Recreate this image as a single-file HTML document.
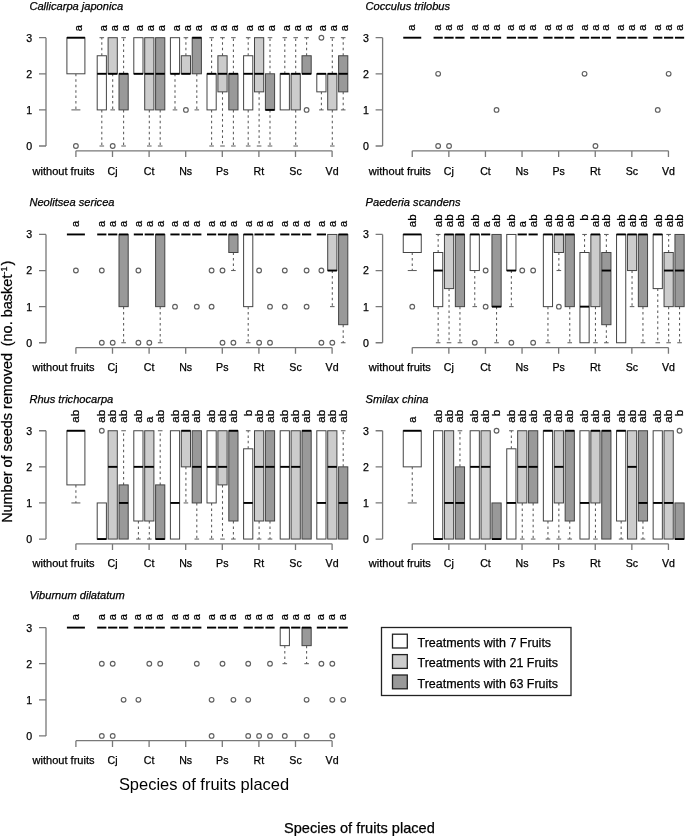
<!DOCTYPE html>
<html lang="en">
<head>
<meta charset="utf-8">
<title>Number of seeds removed by species of fruits placed</title>
<style>
html,body{margin:0;padding:0;background:#fff;}
body{width:685px;height:836px;overflow:hidden;font-family:"Liberation Sans",Arial,Helvetica,sans-serif;}
svg{display:block;}
</style>
</head>
<body>
<svg width="685" height="836" viewBox="0 0 685 836" font-family="'Liberation Sans', Arial, Helvetica, sans-serif" fill="#000" stroke="#000" stroke-width="0.25">
<rect width="685" height="836" fill="#fff" stroke="none"/>
<g><text x="29.4" y="10.2" font-size="11.1" font-style="italic">Callicarpa japonica</text><path d="M46 37.7V146M39 146H46M39 109.9H46M39 73.8H46M39 37.7H46M75.9 150.8H332.1M75.9 150.8V157M112.5 150.8V157M149.1 150.8V157M185.7 150.8V157M222.3 150.8V157M258.9 150.8V157M295.5 150.8V157M332.1 150.8V157" fill="none" stroke="#787878" stroke-width="1.3"/><text x="29.3" y="149.9" font-size="10.6" text-anchor="middle">0</text><text x="29.3" y="113.8" font-size="10.6" text-anchor="middle">1</text><text x="29.3" y="77.7" font-size="10.6" text-anchor="middle">2</text><text x="29.3" y="41.6" font-size="10.6" text-anchor="middle">3</text><text x="32.5" y="175" font-size="10.6" textLength="62" lengthAdjust="spacingAndGlyphs">without fruits</text><text x="112.5" y="175" font-size="10.6" text-anchor="middle">Cj</text><text x="149.1" y="175" font-size="10.6" text-anchor="middle">Ct</text><text x="185.7" y="175" font-size="10.6" text-anchor="middle">Ns</text><text x="222.3" y="175" font-size="10.6" text-anchor="middle">Ps</text><text x="258.9" y="175" font-size="10.6" text-anchor="middle">Rt</text><text x="295.5" y="175" font-size="10.6" text-anchor="middle">Sc</text><text x="332.1" y="175" font-size="10.6" text-anchor="middle">Vd</text><path d="M75.9 73.8V109.9" fill="none" stroke="#5a5a5a" stroke-width="1.05" stroke-dasharray="2.5 2.95"/><path d="M71.4 109.9H80.4" fill="none" stroke="#5a5a5a" stroke-width="1"/><rect x="66.9" y="37.7" width="18" height="36.1" fill="#ffffff" stroke="#444444" stroke-width="1"/><path d="M66.9 37.7H84.9" stroke="#000" stroke-width="1.9" fill="none"/><circle cx="75.9" cy="146" r="2.35" fill="none" stroke="#606060" stroke-width="1.15"/><text transform="translate(82.1 31.3) rotate(-90)" font-size="11">a</text><path d="M101.8 109.9V146M101.8 55.75V37.7" fill="none" stroke="#5a5a5a" stroke-width="1.05" stroke-dasharray="2.5 2.95"/><path d="M99.5 146H104.1M99.5 37.7H104.1" fill="none" stroke="#5a5a5a" stroke-width="1"/><rect x="97.2" y="55.75" width="9.2" height="54.15" fill="#ffffff" stroke="#444444" stroke-width="1"/><path d="M97.2 73.8H106.4" stroke="#000" stroke-width="1.9" fill="none"/><text transform="translate(106.7 31.3) rotate(-90)" font-size="11">a</text><path d="M112.7 73.8V109.9" fill="none" stroke="#5a5a5a" stroke-width="1.05" stroke-dasharray="2.5 2.95"/><path d="M110.4 109.9H115" fill="none" stroke="#5a5a5a" stroke-width="1"/><rect x="108.1" y="37.7" width="9.2" height="36.1" fill="#cccccc" stroke="#444444" stroke-width="1"/><path d="M108.1 73.8H117.3" stroke="#000" stroke-width="1.9" fill="none"/><circle cx="112.7" cy="146" r="2.35" fill="none" stroke="#606060" stroke-width="1.15"/><text transform="translate(117.6 31.3) rotate(-90)" font-size="11">a</text><path d="M123.6 109.9V146M123.6 73.8V37.7" fill="none" stroke="#5a5a5a" stroke-width="1.05" stroke-dasharray="2.5 2.95"/><path d="M121.3 146H125.9M121.3 37.7H125.9" fill="none" stroke="#5a5a5a" stroke-width="1"/><rect x="119" y="73.8" width="9.2" height="36.1" fill="#999999" stroke="#444444" stroke-width="1"/><path d="M119 73.8H128.2" stroke="#000" stroke-width="1.9" fill="none"/><text transform="translate(128.5 31.3) rotate(-90)" font-size="11">a</text><rect x="133.8" y="37.7" width="9.2" height="36.1" fill="#ffffff" stroke="#444444" stroke-width="1"/><path d="M133.8 73.8H143" stroke="#000" stroke-width="1.9" fill="none"/><text transform="translate(143.3 31.3) rotate(-90)" font-size="11">a</text><path d="M149.3 109.9V146" fill="none" stroke="#5a5a5a" stroke-width="1.05" stroke-dasharray="2.5 2.95"/><path d="M147 146H151.6" fill="none" stroke="#5a5a5a" stroke-width="1"/><rect x="144.7" y="37.7" width="9.2" height="72.2" fill="#cccccc" stroke="#444444" stroke-width="1"/><path d="M144.7 73.8H153.9" stroke="#000" stroke-width="1.9" fill="none"/><text transform="translate(154.2 31.3) rotate(-90)" font-size="11">a</text><path d="M160.2 109.9V146" fill="none" stroke="#5a5a5a" stroke-width="1.05" stroke-dasharray="2.5 2.95"/><path d="M157.9 146H162.5" fill="none" stroke="#5a5a5a" stroke-width="1"/><rect x="155.6" y="37.7" width="9.2" height="72.2" fill="#999999" stroke="#444444" stroke-width="1"/><path d="M155.6 73.8H164.8" stroke="#000" stroke-width="1.9" fill="none"/><text transform="translate(165.1 31.3) rotate(-90)" font-size="11">a</text><path d="M175 73.8V109.9" fill="none" stroke="#5a5a5a" stroke-width="1.05" stroke-dasharray="2.5 2.95"/><path d="M172.7 109.9H177.3" fill="none" stroke="#5a5a5a" stroke-width="1"/><rect x="170.4" y="37.7" width="9.2" height="36.1" fill="#ffffff" stroke="#444444" stroke-width="1"/><path d="M170.4 73.8H179.6" stroke="#000" stroke-width="1.9" fill="none"/><text transform="translate(179.9 31.3) rotate(-90)" font-size="11">a</text><path d="M185.9 55.75V37.7" fill="none" stroke="#5a5a5a" stroke-width="1.05" stroke-dasharray="2.5 2.95"/><path d="M183.6 37.7H188.2" fill="none" stroke="#5a5a5a" stroke-width="1"/><rect x="181.3" y="55.75" width="9.2" height="18.05" fill="#cccccc" stroke="#444444" stroke-width="1"/><path d="M181.3 73.8H190.5" stroke="#000" stroke-width="1.9" fill="none"/><circle cx="185.9" cy="109.9" r="2.35" fill="none" stroke="#606060" stroke-width="1.15"/><text transform="translate(190.8 31.3) rotate(-90)" font-size="11">a</text><path d="M196.8 73.8V109.9" fill="none" stroke="#5a5a5a" stroke-width="1.05" stroke-dasharray="2.5 2.95"/><path d="M194.5 109.9H199.1" fill="none" stroke="#5a5a5a" stroke-width="1"/><rect x="192.2" y="37.7" width="9.2" height="36.1" fill="#999999" stroke="#444444" stroke-width="1"/><path d="M192.2 37.7H201.4" stroke="#000" stroke-width="1.9" fill="none"/><text transform="translate(201.7 31.3) rotate(-90)" font-size="11">a</text><path d="M211.6 109.9V146M211.6 73.8V37.7" fill="none" stroke="#5a5a5a" stroke-width="1.05" stroke-dasharray="2.5 2.95"/><path d="M209.3 146H213.9M209.3 37.7H213.9" fill="none" stroke="#5a5a5a" stroke-width="1"/><rect x="207" y="73.8" width="9.2" height="36.1" fill="#ffffff" stroke="#444444" stroke-width="1"/><path d="M207 73.8H216.2" stroke="#000" stroke-width="1.9" fill="none"/><text transform="translate(216.5 31.3) rotate(-90)" font-size="11">a</text><path d="M222.5 91.85V146M222.5 55.75V37.7" fill="none" stroke="#5a5a5a" stroke-width="1.05" stroke-dasharray="2.5 2.95"/><path d="M220.2 146H224.8M220.2 37.7H224.8" fill="none" stroke="#5a5a5a" stroke-width="1"/><rect x="217.9" y="55.75" width="9.2" height="36.1" fill="#cccccc" stroke="#444444" stroke-width="1"/><path d="M217.9 73.8H227.1" stroke="#000" stroke-width="1.9" fill="none"/><text transform="translate(227.4 31.3) rotate(-90)" font-size="11">a</text><path d="M233.4 109.9V146M233.4 73.8V37.7" fill="none" stroke="#5a5a5a" stroke-width="1.05" stroke-dasharray="2.5 2.95"/><path d="M231.1 146H235.7M231.1 37.7H235.7" fill="none" stroke="#5a5a5a" stroke-width="1"/><rect x="228.8" y="73.8" width="9.2" height="36.1" fill="#999999" stroke="#444444" stroke-width="1"/><path d="M228.8 73.8H238" stroke="#000" stroke-width="1.9" fill="none"/><text transform="translate(238.3 31.3) rotate(-90)" font-size="11">a</text><path d="M248.2 109.9V146M248.2 55.75V37.7" fill="none" stroke="#5a5a5a" stroke-width="1.05" stroke-dasharray="2.5 2.95"/><path d="M245.9 146H250.5M245.9 37.7H250.5" fill="none" stroke="#5a5a5a" stroke-width="1"/><rect x="243.6" y="55.75" width="9.2" height="54.15" fill="#ffffff" stroke="#444444" stroke-width="1"/><path d="M243.6 73.8H252.8" stroke="#000" stroke-width="1.9" fill="none"/><text transform="translate(253.1 31.3) rotate(-90)" font-size="11">a</text><path d="M259.1 91.85V146" fill="none" stroke="#5a5a5a" stroke-width="1.05" stroke-dasharray="2.5 2.95"/><path d="M256.8 146H261.4" fill="none" stroke="#5a5a5a" stroke-width="1"/><rect x="254.5" y="37.7" width="9.2" height="54.15" fill="#cccccc" stroke="#444444" stroke-width="1"/><path d="M254.5 73.8H263.7" stroke="#000" stroke-width="1.9" fill="none"/><text transform="translate(264 31.3) rotate(-90)" font-size="11">a</text><path d="M270 109.9V146M270 73.8V37.7" fill="none" stroke="#5a5a5a" stroke-width="1.05" stroke-dasharray="2.5 2.95"/><path d="M267.7 146H272.3M267.7 37.7H272.3" fill="none" stroke="#5a5a5a" stroke-width="1"/><rect x="265.4" y="73.8" width="9.2" height="36.1" fill="#999999" stroke="#444444" stroke-width="1"/><path d="M265.4 109.9H274.6" stroke="#000" stroke-width="1.9" fill="none"/><text transform="translate(274.9 31.3) rotate(-90)" font-size="11">a</text><path d="M284.8 73.8V37.7" fill="none" stroke="#5a5a5a" stroke-width="1.05" stroke-dasharray="2.5 2.95"/><path d="M282.5 37.7H287.1" fill="none" stroke="#5a5a5a" stroke-width="1"/><rect x="280.2" y="73.8" width="9.2" height="36.1" fill="#ffffff" stroke="#444444" stroke-width="1"/><path d="M280.2 73.8H289.4" stroke="#000" stroke-width="1.9" fill="none"/><text transform="translate(289.7 31.3) rotate(-90)" font-size="11">a</text><path d="M295.7 109.9V146M295.7 73.8V37.7" fill="none" stroke="#5a5a5a" stroke-width="1.05" stroke-dasharray="2.5 2.95"/><path d="M293.4 146H298M293.4 37.7H298" fill="none" stroke="#5a5a5a" stroke-width="1"/><rect x="291.1" y="73.8" width="9.2" height="36.1" fill="#cccccc" stroke="#444444" stroke-width="1"/><path d="M291.1 73.8H300.3" stroke="#000" stroke-width="1.9" fill="none"/><text transform="translate(300.6 31.3) rotate(-90)" font-size="11">a</text><path d="M306.6 55.75V37.7" fill="none" stroke="#5a5a5a" stroke-width="1.05" stroke-dasharray="2.5 2.95"/><path d="M304.3 37.7H308.9" fill="none" stroke="#5a5a5a" stroke-width="1"/><rect x="302" y="55.75" width="9.2" height="18.05" fill="#999999" stroke="#444444" stroke-width="1"/><path d="M302 73.8H311.2" stroke="#000" stroke-width="1.9" fill="none"/><circle cx="306.6" cy="109.9" r="2.35" fill="none" stroke="#606060" stroke-width="1.15"/><text transform="translate(311.5 31.3) rotate(-90)" font-size="11">a</text><path d="M321.4 91.85V109.9" fill="none" stroke="#5a5a5a" stroke-width="1.05" stroke-dasharray="2.5 2.95"/><path d="M319.1 109.9H323.7" fill="none" stroke="#5a5a5a" stroke-width="1"/><rect x="316.8" y="73.8" width="9.2" height="18.05" fill="#ffffff" stroke="#444444" stroke-width="1"/><path d="M316.8 73.8H326" stroke="#000" stroke-width="1.9" fill="none"/><circle cx="321.4" cy="37.7" r="2.35" fill="none" stroke="#606060" stroke-width="1.15"/><text transform="translate(326.3 31.3) rotate(-90)" font-size="11">a</text><path d="M332.3 109.9V146M332.3 73.8V37.7" fill="none" stroke="#5a5a5a" stroke-width="1.05" stroke-dasharray="2.5 2.95"/><path d="M330 146H334.6M330 37.7H334.6" fill="none" stroke="#5a5a5a" stroke-width="1"/><rect x="327.7" y="73.8" width="9.2" height="36.1" fill="#cccccc" stroke="#444444" stroke-width="1"/><path d="M327.7 73.8H336.9" stroke="#000" stroke-width="1.9" fill="none"/><text transform="translate(337.2 31.3) rotate(-90)" font-size="11">a</text><path d="M343.2 91.85V109.9M343.2 55.75V37.7" fill="none" stroke="#5a5a5a" stroke-width="1.05" stroke-dasharray="2.5 2.95"/><path d="M340.9 109.9H345.5M340.9 37.7H345.5" fill="none" stroke="#5a5a5a" stroke-width="1"/><rect x="338.6" y="55.75" width="9.2" height="36.1" fill="#999999" stroke="#444444" stroke-width="1"/><path d="M338.6 73.8H347.8" stroke="#000" stroke-width="1.9" fill="none"/><text transform="translate(348.1 31.3) rotate(-90)" font-size="11">a</text></g>
<g><text x="365.6" y="10.2" font-size="11.1" font-style="italic">Cocculus trilobus</text><path d="M382.6 37.7V146M375.6 146H382.6M375.6 109.9H382.6M375.6 73.8H382.6M375.6 37.7H382.6M412.25 150.8H668.45M412.25 150.8V157M448.85 150.8V157M485.45 150.8V157M522.05 150.8V157M558.65 150.8V157M595.25 150.8V157M631.85 150.8V157M668.45 150.8V157" fill="none" stroke="#787878" stroke-width="1.3"/><text x="365.9" y="149.9" font-size="10.6" text-anchor="middle">0</text><text x="365.9" y="113.8" font-size="10.6" text-anchor="middle">1</text><text x="365.9" y="77.7" font-size="10.6" text-anchor="middle">2</text><text x="365.9" y="41.6" font-size="10.6" text-anchor="middle">3</text><text x="368.85" y="175" font-size="10.6" textLength="62" lengthAdjust="spacingAndGlyphs">without fruits</text><text x="448.85" y="175" font-size="10.6" text-anchor="middle">Cj</text><text x="485.45" y="175" font-size="10.6" text-anchor="middle">Ct</text><text x="522.05" y="175" font-size="10.6" text-anchor="middle">Ns</text><text x="558.65" y="175" font-size="10.6" text-anchor="middle">Ps</text><text x="595.25" y="175" font-size="10.6" text-anchor="middle">Rt</text><text x="631.85" y="175" font-size="10.6" text-anchor="middle">Sc</text><text x="668.45" y="175" font-size="10.6" text-anchor="middle">Vd</text><path d="M403.25 37.7H421.25" stroke="#000" stroke-width="1.9" fill="none"/><text transform="translate(415.35 30.7) rotate(-90)" font-size="11">a</text><path d="M433.55 37.7H442.75" stroke="#000" stroke-width="1.9" fill="none"/><circle cx="438.15" cy="73.8" r="2.35" fill="none" stroke="#606060" stroke-width="1.15"/><circle cx="438.15" cy="146" r="2.35" fill="none" stroke="#606060" stroke-width="1.15"/><text transform="translate(441.25 30.7) rotate(-90)" font-size="11">a</text><path d="M444.45 37.7H453.65" stroke="#000" stroke-width="1.9" fill="none"/><circle cx="449.05" cy="146" r="2.35" fill="none" stroke="#606060" stroke-width="1.15"/><text transform="translate(452.15 30.7) rotate(-90)" font-size="11">a</text><path d="M455.35 37.7H464.55" stroke="#000" stroke-width="1.9" fill="none"/><text transform="translate(463.05 30.7) rotate(-90)" font-size="11">a</text><path d="M470.15 37.7H479.35" stroke="#000" stroke-width="1.9" fill="none"/><text transform="translate(477.85 30.7) rotate(-90)" font-size="11">a</text><path d="M481.05 37.7H490.25" stroke="#000" stroke-width="1.9" fill="none"/><text transform="translate(488.75 30.7) rotate(-90)" font-size="11">a</text><path d="M491.95 37.7H501.15" stroke="#000" stroke-width="1.9" fill="none"/><circle cx="496.55" cy="109.9" r="2.35" fill="none" stroke="#606060" stroke-width="1.15"/><text transform="translate(499.65 30.7) rotate(-90)" font-size="11">a</text><path d="M506.75 37.7H515.95" stroke="#000" stroke-width="1.9" fill="none"/><text transform="translate(514.45 30.7) rotate(-90)" font-size="11">a</text><path d="M517.65 37.7H526.85" stroke="#000" stroke-width="1.9" fill="none"/><text transform="translate(525.35 30.7) rotate(-90)" font-size="11">a</text><path d="M528.55 37.7H537.75" stroke="#000" stroke-width="1.9" fill="none"/><text transform="translate(536.25 30.7) rotate(-90)" font-size="11">a</text><path d="M543.35 37.7H552.55" stroke="#000" stroke-width="1.9" fill="none"/><text transform="translate(551.05 30.7) rotate(-90)" font-size="11">a</text><path d="M554.25 37.7H563.45" stroke="#000" stroke-width="1.9" fill="none"/><text transform="translate(561.95 30.7) rotate(-90)" font-size="11">a</text><path d="M565.15 37.7H574.35" stroke="#000" stroke-width="1.9" fill="none"/><text transform="translate(572.85 30.7) rotate(-90)" font-size="11">a</text><path d="M579.95 37.7H589.15" stroke="#000" stroke-width="1.9" fill="none"/><circle cx="584.55" cy="73.8" r="2.35" fill="none" stroke="#606060" stroke-width="1.15"/><text transform="translate(587.65 30.7) rotate(-90)" font-size="11">a</text><path d="M590.85 37.7H600.05" stroke="#000" stroke-width="1.9" fill="none"/><circle cx="595.45" cy="146" r="2.35" fill="none" stroke="#606060" stroke-width="1.15"/><text transform="translate(598.55 30.7) rotate(-90)" font-size="11">a</text><path d="M601.75 37.7H610.95" stroke="#000" stroke-width="1.9" fill="none"/><text transform="translate(609.45 30.7) rotate(-90)" font-size="11">a</text><path d="M616.55 37.7H625.75" stroke="#000" stroke-width="1.9" fill="none"/><text transform="translate(624.25 30.7) rotate(-90)" font-size="11">a</text><path d="M627.45 37.7H636.65" stroke="#000" stroke-width="1.9" fill="none"/><text transform="translate(635.15 30.7) rotate(-90)" font-size="11">a</text><path d="M638.35 37.7H647.55" stroke="#000" stroke-width="1.9" fill="none"/><text transform="translate(646.05 30.7) rotate(-90)" font-size="11">a</text><path d="M653.15 37.7H662.35" stroke="#000" stroke-width="1.9" fill="none"/><circle cx="657.75" cy="109.9" r="2.35" fill="none" stroke="#606060" stroke-width="1.15"/><text transform="translate(660.85 30.7) rotate(-90)" font-size="11">a</text><path d="M664.05 37.7H673.25" stroke="#000" stroke-width="1.9" fill="none"/><circle cx="668.65" cy="73.8" r="2.35" fill="none" stroke="#606060" stroke-width="1.15"/><text transform="translate(671.75 30.7) rotate(-90)" font-size="11">a</text><path d="M674.95 37.7H684.15" stroke="#000" stroke-width="1.9" fill="none"/><text transform="translate(682.65 30.7) rotate(-90)" font-size="11">a</text></g>
<g><text x="29.4" y="206.25" font-size="11.1" font-style="italic">Neolitsea sericea</text><path d="M46 234.45V342.75M39 342.75H46M39 306.65H46M39 270.55H46M39 234.45H46M75.9 347.55H332.1M75.9 347.55V353.75M112.5 347.55V353.75M149.1 347.55V353.75M185.7 347.55V353.75M222.3 347.55V353.75M258.9 347.55V353.75M295.5 347.55V353.75M332.1 347.55V353.75" fill="none" stroke="#787878" stroke-width="1.3"/><text x="29.3" y="346.65" font-size="10.6" text-anchor="middle">0</text><text x="29.3" y="310.55" font-size="10.6" text-anchor="middle">1</text><text x="29.3" y="274.45" font-size="10.6" text-anchor="middle">2</text><text x="29.3" y="238.35" font-size="10.6" text-anchor="middle">3</text><text x="32.5" y="371.25" font-size="10.6" textLength="62" lengthAdjust="spacingAndGlyphs">without fruits</text><text x="112.5" y="371.25" font-size="10.6" text-anchor="middle">Cj</text><text x="149.1" y="371.25" font-size="10.6" text-anchor="middle">Ct</text><text x="185.7" y="371.25" font-size="10.6" text-anchor="middle">Ns</text><text x="222.3" y="371.25" font-size="10.6" text-anchor="middle">Ps</text><text x="258.9" y="371.25" font-size="10.6" text-anchor="middle">Rt</text><text x="295.5" y="371.25" font-size="10.6" text-anchor="middle">Sc</text><text x="332.1" y="371.25" font-size="10.6" text-anchor="middle">Vd</text><path d="M66.9 234.45H84.9" stroke="#000" stroke-width="1.9" fill="none"/><circle cx="75.9" cy="270.55" r="2.35" fill="none" stroke="#606060" stroke-width="1.15"/><text transform="translate(79.3 226.95) rotate(-90)" font-size="11">a</text><path d="M97.2 234.45H106.4" stroke="#000" stroke-width="1.9" fill="none"/><circle cx="101.8" cy="270.55" r="2.35" fill="none" stroke="#606060" stroke-width="1.15"/><circle cx="101.8" cy="342.75" r="2.35" fill="none" stroke="#606060" stroke-width="1.15"/><text transform="translate(105.2 226.95) rotate(-90)" font-size="11">a</text><path d="M108.1 234.45H117.3" stroke="#000" stroke-width="1.9" fill="none"/><circle cx="112.7" cy="342.75" r="2.35" fill="none" stroke="#606060" stroke-width="1.15"/><text transform="translate(116.1 226.95) rotate(-90)" font-size="11">a</text><path d="M123.6 306.65V342.75" fill="none" stroke="#5a5a5a" stroke-width="1.05" stroke-dasharray="2.5 2.95"/><path d="M121.3 342.75H125.9" fill="none" stroke="#5a5a5a" stroke-width="1"/><rect x="119" y="234.45" width="9.2" height="72.2" fill="#999999" stroke="#444444" stroke-width="1"/><path d="M119 234.45H128.2" stroke="#000" stroke-width="1.9" fill="none"/><text transform="translate(127 226.95) rotate(-90)" font-size="11">a</text><path d="M133.8 234.45H143" stroke="#000" stroke-width="1.9" fill="none"/><circle cx="138.4" cy="270.55" r="2.35" fill="none" stroke="#606060" stroke-width="1.15"/><circle cx="138.4" cy="342.75" r="2.35" fill="none" stroke="#606060" stroke-width="1.15"/><text transform="translate(141.8 226.95) rotate(-90)" font-size="11">a</text><path d="M144.7 234.45H153.9" stroke="#000" stroke-width="1.9" fill="none"/><circle cx="149.3" cy="342.75" r="2.35" fill="none" stroke="#606060" stroke-width="1.15"/><text transform="translate(152.7 226.95) rotate(-90)" font-size="11">a</text><path d="M160.2 306.65V342.75" fill="none" stroke="#5a5a5a" stroke-width="1.05" stroke-dasharray="2.5 2.95"/><path d="M157.9 342.75H162.5" fill="none" stroke="#5a5a5a" stroke-width="1"/><rect x="155.6" y="234.45" width="9.2" height="72.2" fill="#999999" stroke="#444444" stroke-width="1"/><path d="M155.6 234.45H164.8" stroke="#000" stroke-width="1.9" fill="none"/><text transform="translate(163.6 226.95) rotate(-90)" font-size="11">a</text><path d="M170.4 234.45H179.6" stroke="#000" stroke-width="1.9" fill="none"/><circle cx="175" cy="306.65" r="2.35" fill="none" stroke="#606060" stroke-width="1.15"/><text transform="translate(178.4 226.95) rotate(-90)" font-size="11">a</text><path d="M181.3 234.45H190.5" stroke="#000" stroke-width="1.9" fill="none"/><text transform="translate(189.3 226.95) rotate(-90)" font-size="11">a</text><path d="M192.2 234.45H201.4" stroke="#000" stroke-width="1.9" fill="none"/><circle cx="196.8" cy="306.65" r="2.35" fill="none" stroke="#606060" stroke-width="1.15"/><text transform="translate(200.2 226.95) rotate(-90)" font-size="11">a</text><path d="M207 234.45H216.2" stroke="#000" stroke-width="1.9" fill="none"/><circle cx="211.6" cy="270.55" r="2.35" fill="none" stroke="#606060" stroke-width="1.15"/><circle cx="211.6" cy="306.65" r="2.35" fill="none" stroke="#606060" stroke-width="1.15"/><text transform="translate(215 226.95) rotate(-90)" font-size="11">a</text><path d="M217.9 234.45H227.1" stroke="#000" stroke-width="1.9" fill="none"/><circle cx="222.5" cy="270.55" r="2.35" fill="none" stroke="#606060" stroke-width="1.15"/><circle cx="222.5" cy="342.75" r="2.35" fill="none" stroke="#606060" stroke-width="1.15"/><text transform="translate(225.9 226.95) rotate(-90)" font-size="11">a</text><path d="M233.4 252.5V270.55" fill="none" stroke="#5a5a5a" stroke-width="1.05" stroke-dasharray="2.5 2.95"/><path d="M231.1 270.55H235.7" fill="none" stroke="#5a5a5a" stroke-width="1"/><rect x="228.8" y="234.45" width="9.2" height="18.05" fill="#999999" stroke="#444444" stroke-width="1"/><path d="M228.8 234.45H238" stroke="#000" stroke-width="1.9" fill="none"/><circle cx="233.4" cy="342.75" r="2.35" fill="none" stroke="#606060" stroke-width="1.15"/><text transform="translate(236.8 226.95) rotate(-90)" font-size="11">a</text><path d="M248.2 306.65V342.75" fill="none" stroke="#5a5a5a" stroke-width="1.05" stroke-dasharray="2.5 2.95"/><path d="M245.9 342.75H250.5" fill="none" stroke="#5a5a5a" stroke-width="1"/><rect x="243.6" y="234.45" width="9.2" height="72.2" fill="#ffffff" stroke="#444444" stroke-width="1"/><path d="M243.6 234.45H252.8" stroke="#000" stroke-width="1.9" fill="none"/><text transform="translate(251.6 226.95) rotate(-90)" font-size="11">a</text><path d="M254.5 234.45H263.7" stroke="#000" stroke-width="1.9" fill="none"/><circle cx="259.1" cy="270.55" r="2.35" fill="none" stroke="#606060" stroke-width="1.15"/><circle cx="259.1" cy="342.75" r="2.35" fill="none" stroke="#606060" stroke-width="1.15"/><text transform="translate(262.5 226.95) rotate(-90)" font-size="11">a</text><path d="M265.4 234.45H274.6" stroke="#000" stroke-width="1.9" fill="none"/><circle cx="270" cy="306.65" r="2.35" fill="none" stroke="#606060" stroke-width="1.15"/><circle cx="270" cy="342.75" r="2.35" fill="none" stroke="#606060" stroke-width="1.15"/><text transform="translate(273.4 226.95) rotate(-90)" font-size="11">a</text><path d="M280.2 234.45H289.4" stroke="#000" stroke-width="1.9" fill="none"/><circle cx="284.8" cy="270.55" r="2.35" fill="none" stroke="#606060" stroke-width="1.15"/><circle cx="284.8" cy="306.65" r="2.35" fill="none" stroke="#606060" stroke-width="1.15"/><text transform="translate(288.2 226.95) rotate(-90)" font-size="11">a</text><path d="M291.1 234.45H300.3" stroke="#000" stroke-width="1.9" fill="none"/><text transform="translate(299.1 226.95) rotate(-90)" font-size="11">a</text><path d="M302 234.45H311.2" stroke="#000" stroke-width="1.9" fill="none"/><circle cx="306.6" cy="270.55" r="2.35" fill="none" stroke="#606060" stroke-width="1.15"/><circle cx="306.6" cy="306.65" r="2.35" fill="none" stroke="#606060" stroke-width="1.15"/><text transform="translate(310 226.95) rotate(-90)" font-size="11">a</text><path d="M316.8 234.45H326" stroke="#000" stroke-width="1.9" fill="none"/><circle cx="321.4" cy="270.55" r="2.35" fill="none" stroke="#606060" stroke-width="1.15"/><circle cx="321.4" cy="342.75" r="2.35" fill="none" stroke="#606060" stroke-width="1.15"/><text transform="translate(324.8 226.95) rotate(-90)" font-size="11">a</text><path d="M332.3 270.55V306.65" fill="none" stroke="#5a5a5a" stroke-width="1.05" stroke-dasharray="2.5 2.95"/><path d="M330 306.65H334.6" fill="none" stroke="#5a5a5a" stroke-width="1"/><rect x="327.7" y="234.45" width="9.2" height="36.1" fill="#cccccc" stroke="#444444" stroke-width="1"/><path d="M327.7 270.55H336.9" stroke="#000" stroke-width="1.9" fill="none"/><circle cx="332.3" cy="342.75" r="2.35" fill="none" stroke="#606060" stroke-width="1.15"/><text transform="translate(335.7 226.95) rotate(-90)" font-size="11">a</text><path d="M343.2 324.7V342.75" fill="none" stroke="#5a5a5a" stroke-width="1.05" stroke-dasharray="2.5 2.95"/><path d="M340.9 342.75H345.5" fill="none" stroke="#5a5a5a" stroke-width="1"/><rect x="338.6" y="234.45" width="9.2" height="90.25" fill="#999999" stroke="#444444" stroke-width="1"/><path d="M338.6 234.45H347.8" stroke="#000" stroke-width="1.9" fill="none"/><text transform="translate(346.6 226.95) rotate(-90)" font-size="11">a</text></g>
<g><text x="365.6" y="206.25" font-size="11.1" font-style="italic">Paederia scandens</text><path d="M382.6 234.45V342.75M375.6 342.75H382.6M375.6 306.65H382.6M375.6 270.55H382.6M375.6 234.45H382.6M412.25 347.55H668.45M412.25 347.55V353.75M448.85 347.55V353.75M485.45 347.55V353.75M522.05 347.55V353.75M558.65 347.55V353.75M595.25 347.55V353.75M631.85 347.55V353.75M668.45 347.55V353.75" fill="none" stroke="#787878" stroke-width="1.3"/><text x="365.9" y="346.65" font-size="10.6" text-anchor="middle">0</text><text x="365.9" y="310.55" font-size="10.6" text-anchor="middle">1</text><text x="365.9" y="274.45" font-size="10.6" text-anchor="middle">2</text><text x="365.9" y="238.35" font-size="10.6" text-anchor="middle">3</text><text x="368.85" y="371.25" font-size="10.6" textLength="62" lengthAdjust="spacingAndGlyphs">without fruits</text><text x="448.85" y="371.25" font-size="10.6" text-anchor="middle">Cj</text><text x="485.45" y="371.25" font-size="10.6" text-anchor="middle">Ct</text><text x="522.05" y="371.25" font-size="10.6" text-anchor="middle">Ns</text><text x="558.65" y="371.25" font-size="10.6" text-anchor="middle">Ps</text><text x="595.25" y="371.25" font-size="10.6" text-anchor="middle">Rt</text><text x="631.85" y="371.25" font-size="10.6" text-anchor="middle">Sc</text><text x="668.45" y="371.25" font-size="10.6" text-anchor="middle">Vd</text><path d="M412.25 252.5V270.55" fill="none" stroke="#5a5a5a" stroke-width="1.05" stroke-dasharray="2.5 2.95"/><path d="M407.75 270.55H416.75" fill="none" stroke="#5a5a5a" stroke-width="1"/><rect x="403.25" y="234.45" width="18" height="18.05" fill="#ffffff" stroke="#444444" stroke-width="1"/><path d="M403.25 234.45H421.25" stroke="#000" stroke-width="1.9" fill="none"/><circle cx="412.25" cy="306.65" r="2.35" fill="none" stroke="#606060" stroke-width="1.15"/><text transform="translate(416.15 227.15) rotate(-90)" font-size="11.6">ab</text><path d="M438.15 306.65V342.75M438.15 252.5V234.45" fill="none" stroke="#5a5a5a" stroke-width="1.05" stroke-dasharray="2.5 2.95"/><path d="M435.85 342.75H440.45M435.85 234.45H440.45" fill="none" stroke="#5a5a5a" stroke-width="1"/><rect x="433.55" y="252.5" width="9.2" height="54.15" fill="#ffffff" stroke="#444444" stroke-width="1"/><path d="M433.55 270.55H442.75" stroke="#000" stroke-width="1.9" fill="none"/><text transform="translate(442.05 227.15) rotate(-90)" font-size="11.6">ab</text><path d="M449.05 288.6V342.75" fill="none" stroke="#5a5a5a" stroke-width="1.05" stroke-dasharray="2.5 2.95"/><path d="M446.75 342.75H451.35" fill="none" stroke="#5a5a5a" stroke-width="1"/><rect x="444.45" y="234.45" width="9.2" height="54.15" fill="#cccccc" stroke="#444444" stroke-width="1"/><path d="M444.45 234.45H453.65" stroke="#000" stroke-width="1.9" fill="none"/><text transform="translate(452.95 227.15) rotate(-90)" font-size="11.6">ab</text><path d="M459.95 306.65V342.75" fill="none" stroke="#5a5a5a" stroke-width="1.05" stroke-dasharray="2.5 2.95"/><path d="M457.65 342.75H462.25" fill="none" stroke="#5a5a5a" stroke-width="1"/><rect x="455.35" y="234.45" width="9.2" height="72.2" fill="#999999" stroke="#444444" stroke-width="1"/><path d="M455.35 234.45H464.55" stroke="#000" stroke-width="1.9" fill="none"/><text transform="translate(463.85 227.15) rotate(-90)" font-size="11.6">ab</text><path d="M474.75 270.55V306.65" fill="none" stroke="#5a5a5a" stroke-width="1.05" stroke-dasharray="2.5 2.95"/><path d="M472.45 306.65H477.05" fill="none" stroke="#5a5a5a" stroke-width="1"/><rect x="470.15" y="234.45" width="9.2" height="36.1" fill="#ffffff" stroke="#444444" stroke-width="1"/><path d="M470.15 234.45H479.35" stroke="#000" stroke-width="1.9" fill="none"/><circle cx="474.75" cy="342.75" r="2.35" fill="none" stroke="#606060" stroke-width="1.15"/><text transform="translate(478.65 227.15) rotate(-90)" font-size="11.6">ab</text><path d="M481.05 234.45H490.25" stroke="#000" stroke-width="1.9" fill="none"/><circle cx="485.65" cy="270.55" r="2.35" fill="none" stroke="#606060" stroke-width="1.15"/><circle cx="485.65" cy="306.65" r="2.35" fill="none" stroke="#606060" stroke-width="1.15"/><text transform="translate(489.55 227.15) rotate(-90)" font-size="11">a</text><path d="M496.55 306.65V342.75" fill="none" stroke="#5a5a5a" stroke-width="1.05" stroke-dasharray="2.5 2.95"/><path d="M494.25 342.75H498.85" fill="none" stroke="#5a5a5a" stroke-width="1"/><rect x="491.95" y="234.45" width="9.2" height="72.2" fill="#999999" stroke="#444444" stroke-width="1"/><path d="M491.95 306.65H501.15" stroke="#000" stroke-width="1.9" fill="none"/><text transform="translate(500.45 227.15) rotate(-90)" font-size="11.6">ab</text><path d="M511.35 270.55V306.65" fill="none" stroke="#5a5a5a" stroke-width="1.05" stroke-dasharray="2.5 2.95"/><path d="M509.05 306.65H513.65" fill="none" stroke="#5a5a5a" stroke-width="1"/><rect x="506.75" y="234.45" width="9.2" height="36.1" fill="#ffffff" stroke="#444444" stroke-width="1"/><path d="M506.75 270.55H515.95" stroke="#000" stroke-width="1.9" fill="none"/><circle cx="511.35" cy="342.75" r="2.35" fill="none" stroke="#606060" stroke-width="1.15"/><text transform="translate(515.25 227.15) rotate(-90)" font-size="11.6">ab</text><path d="M517.65 234.45H526.85" stroke="#000" stroke-width="1.9" fill="none"/><circle cx="522.25" cy="270.55" r="2.35" fill="none" stroke="#606060" stroke-width="1.15"/><text transform="translate(526.15 227.15) rotate(-90)" font-size="11">a</text><path d="M528.55 234.45H537.75" stroke="#000" stroke-width="1.9" fill="none"/><circle cx="533.15" cy="270.55" r="2.35" fill="none" stroke="#606060" stroke-width="1.15"/><circle cx="533.15" cy="342.75" r="2.35" fill="none" stroke="#606060" stroke-width="1.15"/><text transform="translate(537.05 227.15) rotate(-90)" font-size="11.6">ab</text><path d="M547.95 306.65V342.75" fill="none" stroke="#5a5a5a" stroke-width="1.05" stroke-dasharray="2.5 2.95"/><path d="M545.65 342.75H550.25" fill="none" stroke="#5a5a5a" stroke-width="1"/><rect x="543.35" y="234.45" width="9.2" height="72.2" fill="#ffffff" stroke="#444444" stroke-width="1"/><path d="M543.35 234.45H552.55" stroke="#000" stroke-width="1.9" fill="none"/><text transform="translate(551.85 227.15) rotate(-90)" font-size="11.6">ab</text><path d="M558.85 252.5V270.55" fill="none" stroke="#5a5a5a" stroke-width="1.05" stroke-dasharray="2.5 2.95"/><path d="M556.55 270.55H561.15" fill="none" stroke="#5a5a5a" stroke-width="1"/><rect x="554.25" y="234.45" width="9.2" height="18.05" fill="#cccccc" stroke="#444444" stroke-width="1"/><path d="M554.25 234.45H563.45" stroke="#000" stroke-width="1.9" fill="none"/><circle cx="558.85" cy="306.65" r="2.35" fill="none" stroke="#606060" stroke-width="1.15"/><text transform="translate(562.75 227.15) rotate(-90)" font-size="11.6">ab</text><path d="M569.75 306.65V342.75" fill="none" stroke="#5a5a5a" stroke-width="1.05" stroke-dasharray="2.5 2.95"/><path d="M567.45 342.75H572.05" fill="none" stroke="#5a5a5a" stroke-width="1"/><rect x="565.15" y="234.45" width="9.2" height="72.2" fill="#999999" stroke="#444444" stroke-width="1"/><path d="M565.15 234.45H574.35" stroke="#000" stroke-width="1.9" fill="none"/><text transform="translate(573.65 227.15) rotate(-90)" font-size="11.6">ab</text><path d="M584.55 252.5V234.45" fill="none" stroke="#5a5a5a" stroke-width="1.05" stroke-dasharray="2.5 2.95"/><path d="M582.25 234.45H586.85" fill="none" stroke="#5a5a5a" stroke-width="1"/><rect x="579.95" y="252.5" width="9.2" height="90.25" fill="#ffffff" stroke="#444444" stroke-width="1"/><path d="M579.95 306.65H589.15" stroke="#000" stroke-width="1.9" fill="none"/><text transform="translate(588.45 220.7) rotate(-90)" font-size="11.6">b</text><path d="M595.45 306.65V342.75" fill="none" stroke="#5a5a5a" stroke-width="1.05" stroke-dasharray="2.5 2.95"/><path d="M593.15 342.75H597.75" fill="none" stroke="#5a5a5a" stroke-width="1"/><rect x="590.85" y="234.45" width="9.2" height="72.2" fill="#cccccc" stroke="#444444" stroke-width="1"/><path d="M590.85 234.45H600.05" stroke="#000" stroke-width="1.9" fill="none"/><text transform="translate(599.35 227.15) rotate(-90)" font-size="11.6">ab</text><path d="M606.35 324.7V342.75M606.35 252.5V234.45" fill="none" stroke="#5a5a5a" stroke-width="1.05" stroke-dasharray="2.5 2.95"/><path d="M604.05 342.75H608.65M604.05 234.45H608.65" fill="none" stroke="#5a5a5a" stroke-width="1"/><rect x="601.75" y="252.5" width="9.2" height="72.2" fill="#999999" stroke="#444444" stroke-width="1"/><path d="M601.75 270.55H610.95" stroke="#000" stroke-width="1.9" fill="none"/><text transform="translate(610.25 227.15) rotate(-90)" font-size="11.6">ab</text><rect x="616.55" y="234.45" width="9.2" height="108.3" fill="#ffffff" stroke="#444444" stroke-width="1"/><path d="M616.55 234.45H625.75" stroke="#000" stroke-width="1.9" fill="none"/><text transform="translate(625.05 227.15) rotate(-90)" font-size="11.6">ab</text><path d="M632.05 270.55V306.65" fill="none" stroke="#5a5a5a" stroke-width="1.05" stroke-dasharray="2.5 2.95"/><path d="M629.75 306.65H634.35" fill="none" stroke="#5a5a5a" stroke-width="1"/><rect x="627.45" y="234.45" width="9.2" height="36.1" fill="#cccccc" stroke="#444444" stroke-width="1"/><path d="M627.45 234.45H636.65" stroke="#000" stroke-width="1.9" fill="none"/><text transform="translate(635.95 227.15) rotate(-90)" font-size="11.6">ab</text><path d="M642.95 306.65V342.75" fill="none" stroke="#5a5a5a" stroke-width="1.05" stroke-dasharray="2.5 2.95"/><path d="M640.65 342.75H645.25" fill="none" stroke="#5a5a5a" stroke-width="1"/><rect x="638.35" y="234.45" width="9.2" height="72.2" fill="#999999" stroke="#444444" stroke-width="1"/><path d="M638.35 234.45H647.55" stroke="#000" stroke-width="1.9" fill="none"/><text transform="translate(646.85 227.15) rotate(-90)" font-size="11.6">ab</text><path d="M657.75 288.6V342.75" fill="none" stroke="#5a5a5a" stroke-width="1.05" stroke-dasharray="2.5 2.95"/><path d="M655.45 342.75H660.05" fill="none" stroke="#5a5a5a" stroke-width="1"/><rect x="653.15" y="234.45" width="9.2" height="54.15" fill="#ffffff" stroke="#444444" stroke-width="1"/><path d="M653.15 234.45H662.35" stroke="#000" stroke-width="1.9" fill="none"/><text transform="translate(661.65 227.15) rotate(-90)" font-size="11.6">ab</text><path d="M668.65 306.65V342.75M668.65 252.5V234.45" fill="none" stroke="#5a5a5a" stroke-width="1.05" stroke-dasharray="2.5 2.95"/><path d="M666.35 342.75H670.95M666.35 234.45H670.95" fill="none" stroke="#5a5a5a" stroke-width="1"/><rect x="664.05" y="252.5" width="9.2" height="54.15" fill="#cccccc" stroke="#444444" stroke-width="1"/><path d="M664.05 270.55H673.25" stroke="#000" stroke-width="1.9" fill="none"/><text transform="translate(672.55 227.15) rotate(-90)" font-size="11.6">ab</text><path d="M679.55 306.65V342.75" fill="none" stroke="#5a5a5a" stroke-width="1.05" stroke-dasharray="2.5 2.95"/><path d="M677.25 342.75H681.85" fill="none" stroke="#5a5a5a" stroke-width="1"/><rect x="674.95" y="234.45" width="9.2" height="72.2" fill="#999999" stroke="#444444" stroke-width="1"/><path d="M674.95 270.55H684.15" stroke="#000" stroke-width="1.9" fill="none"/><text transform="translate(683.45 227.15) rotate(-90)" font-size="11.6">ab</text></g>
<g><text x="29.4" y="402.65" font-size="11.1" font-style="italic">Rhus trichocarpa</text><path d="M46 430.75V539.05M39 539.05H46M39 502.95H46M39 466.85H46M39 430.75H46M75.9 543.85H332.1M75.9 543.85V550.05M112.5 543.85V550.05M149.1 543.85V550.05M185.7 543.85V550.05M222.3 543.85V550.05M258.9 543.85V550.05M295.5 543.85V550.05M332.1 543.85V550.05" fill="none" stroke="#787878" stroke-width="1.3"/><text x="29.3" y="542.95" font-size="10.6" text-anchor="middle">0</text><text x="29.3" y="506.85" font-size="10.6" text-anchor="middle">1</text><text x="29.3" y="470.75" font-size="10.6" text-anchor="middle">2</text><text x="29.3" y="434.65" font-size="10.6" text-anchor="middle">3</text><text x="32.5" y="567.45" font-size="10.6" textLength="62" lengthAdjust="spacingAndGlyphs">without fruits</text><text x="112.5" y="567.45" font-size="10.6" text-anchor="middle">Cj</text><text x="149.1" y="567.45" font-size="10.6" text-anchor="middle">Ct</text><text x="185.7" y="567.45" font-size="10.6" text-anchor="middle">Ns</text><text x="222.3" y="567.45" font-size="10.6" text-anchor="middle">Ps</text><text x="258.9" y="567.45" font-size="10.6" text-anchor="middle">Rt</text><text x="295.5" y="567.45" font-size="10.6" text-anchor="middle">Sc</text><text x="332.1" y="567.45" font-size="10.6" text-anchor="middle">Vd</text><path d="M75.9 484.9V502.95" fill="none" stroke="#5a5a5a" stroke-width="1.05" stroke-dasharray="2.5 2.95"/><path d="M71.4 502.95H80.4" fill="none" stroke="#5a5a5a" stroke-width="1"/><rect x="66.9" y="430.75" width="18" height="54.15" fill="#ffffff" stroke="#444444" stroke-width="1"/><path d="M66.9 430.75H84.9" stroke="#000" stroke-width="1.9" fill="none"/><text transform="translate(79.4 422.65) rotate(-90)" font-size="11.6">ab</text><rect x="97.2" y="502.95" width="9.2" height="36.1" fill="#ffffff" stroke="#444444" stroke-width="1"/><path d="M97.2 539.05H106.4" stroke="#000" stroke-width="1.9" fill="none"/><circle cx="101.8" cy="430.75" r="2.35" fill="none" stroke="#606060" stroke-width="1.15"/><text transform="translate(105.3 422.65) rotate(-90)" font-size="11.6">ab</text><rect x="108.1" y="430.75" width="9.2" height="108.3" fill="#cccccc" stroke="#444444" stroke-width="1"/><path d="M108.1 466.85H117.3" stroke="#000" stroke-width="1.9" fill="none"/><text transform="translate(116.2 422.65) rotate(-90)" font-size="11.6">ab</text><path d="M123.6 484.9V430.75" fill="none" stroke="#5a5a5a" stroke-width="1.05" stroke-dasharray="2.5 2.95"/><path d="M121.3 430.75H125.9" fill="none" stroke="#5a5a5a" stroke-width="1"/><rect x="119" y="484.9" width="9.2" height="54.15" fill="#999999" stroke="#444444" stroke-width="1"/><path d="M119 502.95H128.2" stroke="#000" stroke-width="1.9" fill="none"/><text transform="translate(127.1 422.65) rotate(-90)" font-size="11.6">ab</text><path d="M138.4 521V539.05" fill="none" stroke="#5a5a5a" stroke-width="1.05" stroke-dasharray="2.5 2.95"/><path d="M136.1 539.05H140.7" fill="none" stroke="#5a5a5a" stroke-width="1"/><rect x="133.8" y="430.75" width="9.2" height="90.25" fill="#ffffff" stroke="#444444" stroke-width="1"/><path d="M133.8 466.85H143" stroke="#000" stroke-width="1.9" fill="none"/><text transform="translate(141.9 422.65) rotate(-90)" font-size="11.6">ab</text><path d="M149.3 521V539.05" fill="none" stroke="#5a5a5a" stroke-width="1.05" stroke-dasharray="2.5 2.95"/><path d="M147 539.05H151.6" fill="none" stroke="#5a5a5a" stroke-width="1"/><rect x="144.7" y="430.75" width="9.2" height="90.25" fill="#cccccc" stroke="#444444" stroke-width="1"/><path d="M144.7 466.85H153.9" stroke="#000" stroke-width="1.9" fill="none"/><text transform="translate(152.8 422.65) rotate(-90)" font-size="11">a</text><path d="M160.2 484.9V430.75" fill="none" stroke="#5a5a5a" stroke-width="1.05" stroke-dasharray="2.5 2.95"/><path d="M157.9 430.75H162.5" fill="none" stroke="#5a5a5a" stroke-width="1"/><rect x="155.6" y="484.9" width="9.2" height="54.15" fill="#999999" stroke="#444444" stroke-width="1"/><path d="M155.6 539.05H164.8" stroke="#000" stroke-width="1.9" fill="none"/><text transform="translate(163.7 422.65) rotate(-90)" font-size="11.6">ab</text><rect x="170.4" y="430.75" width="9.2" height="108.3" fill="#ffffff" stroke="#444444" stroke-width="1"/><path d="M170.4 502.95H179.6" stroke="#000" stroke-width="1.9" fill="none"/><text transform="translate(178.5 422.65) rotate(-90)" font-size="11.6">ab</text><path d="M185.9 466.85V502.95" fill="none" stroke="#5a5a5a" stroke-width="1.05" stroke-dasharray="2.5 2.95"/><path d="M183.6 502.95H188.2" fill="none" stroke="#5a5a5a" stroke-width="1"/><rect x="181.3" y="430.75" width="9.2" height="36.1" fill="#cccccc" stroke="#444444" stroke-width="1"/><path d="M181.3 430.75H190.5" stroke="#000" stroke-width="1.9" fill="none"/><text transform="translate(189.4 422.65) rotate(-90)" font-size="11.6">ab</text><path d="M196.8 502.95V539.05" fill="none" stroke="#5a5a5a" stroke-width="1.05" stroke-dasharray="2.5 2.95"/><path d="M194.5 539.05H199.1" fill="none" stroke="#5a5a5a" stroke-width="1"/><rect x="192.2" y="430.75" width="9.2" height="72.2" fill="#999999" stroke="#444444" stroke-width="1"/><path d="M192.2 466.85H201.4" stroke="#000" stroke-width="1.9" fill="none"/><text transform="translate(200.3 422.65) rotate(-90)" font-size="11.6">ab</text><path d="M211.6 502.95V539.05" fill="none" stroke="#5a5a5a" stroke-width="1.05" stroke-dasharray="2.5 2.95"/><path d="M209.3 539.05H213.9" fill="none" stroke="#5a5a5a" stroke-width="1"/><rect x="207" y="430.75" width="9.2" height="72.2" fill="#ffffff" stroke="#444444" stroke-width="1"/><path d="M207 466.85H216.2" stroke="#000" stroke-width="1.9" fill="none"/><text transform="translate(215.1 422.65) rotate(-90)" font-size="11.6">ab</text><path d="M222.5 484.9V539.05" fill="none" stroke="#5a5a5a" stroke-width="1.05" stroke-dasharray="2.5 2.95"/><path d="M220.2 539.05H224.8" fill="none" stroke="#5a5a5a" stroke-width="1"/><rect x="217.9" y="430.75" width="9.2" height="54.15" fill="#cccccc" stroke="#444444" stroke-width="1"/><path d="M217.9 466.85H227.1" stroke="#000" stroke-width="1.9" fill="none"/><text transform="translate(226 422.65) rotate(-90)" font-size="11.6">ab</text><path d="M233.4 521V539.05" fill="none" stroke="#5a5a5a" stroke-width="1.05" stroke-dasharray="2.5 2.95"/><path d="M231.1 539.05H235.7" fill="none" stroke="#5a5a5a" stroke-width="1"/><rect x="228.8" y="430.75" width="9.2" height="90.25" fill="#999999" stroke="#444444" stroke-width="1"/><path d="M228.8 430.75H238" stroke="#000" stroke-width="1.9" fill="none"/><text transform="translate(236.9 422.65) rotate(-90)" font-size="11.6">ab</text><path d="M248.2 448.8V430.75" fill="none" stroke="#5a5a5a" stroke-width="1.05" stroke-dasharray="2.5 2.95"/><path d="M245.9 430.75H250.5" fill="none" stroke="#5a5a5a" stroke-width="1"/><rect x="243.6" y="448.8" width="9.2" height="90.25" fill="#ffffff" stroke="#444444" stroke-width="1"/><path d="M243.6 502.95H252.8" stroke="#000" stroke-width="1.9" fill="none"/><text transform="translate(251.7 416.2) rotate(-90)" font-size="11.6">b</text><path d="M259.1 521V539.05" fill="none" stroke="#5a5a5a" stroke-width="1.05" stroke-dasharray="2.5 2.95"/><path d="M256.8 539.05H261.4" fill="none" stroke="#5a5a5a" stroke-width="1"/><rect x="254.5" y="430.75" width="9.2" height="90.25" fill="#cccccc" stroke="#444444" stroke-width="1"/><path d="M254.5 466.85H263.7" stroke="#000" stroke-width="1.9" fill="none"/><text transform="translate(262.6 422.65) rotate(-90)" font-size="11.6">ab</text><path d="M270 521V539.05" fill="none" stroke="#5a5a5a" stroke-width="1.05" stroke-dasharray="2.5 2.95"/><path d="M267.7 539.05H272.3" fill="none" stroke="#5a5a5a" stroke-width="1"/><rect x="265.4" y="430.75" width="9.2" height="90.25" fill="#999999" stroke="#444444" stroke-width="1"/><path d="M265.4 466.85H274.6" stroke="#000" stroke-width="1.9" fill="none"/><text transform="translate(273.5 422.65) rotate(-90)" font-size="11.6">ab</text><rect x="280.2" y="430.75" width="9.2" height="108.3" fill="#ffffff" stroke="#444444" stroke-width="1"/><path d="M280.2 466.85H289.4" stroke="#000" stroke-width="1.9" fill="none"/><text transform="translate(288.3 422.65) rotate(-90)" font-size="11.6">ab</text><rect x="291.1" y="430.75" width="9.2" height="108.3" fill="#cccccc" stroke="#444444" stroke-width="1"/><path d="M291.1 466.85H300.3" stroke="#000" stroke-width="1.9" fill="none"/><text transform="translate(299.2 422.65) rotate(-90)" font-size="11.6">ab</text><rect x="302" y="430.75" width="9.2" height="108.3" fill="#999999" stroke="#444444" stroke-width="1"/><path d="M302 430.75H311.2" stroke="#000" stroke-width="1.9" fill="none"/><text transform="translate(310.1 422.65) rotate(-90)" font-size="11.6">ab</text><rect x="316.8" y="430.75" width="9.2" height="108.3" fill="#ffffff" stroke="#444444" stroke-width="1"/><path d="M316.8 502.95H326" stroke="#000" stroke-width="1.9" fill="none"/><text transform="translate(324.9 422.65) rotate(-90)" font-size="11.6">ab</text><rect x="327.7" y="430.75" width="9.2" height="108.3" fill="#cccccc" stroke="#444444" stroke-width="1"/><path d="M327.7 466.85H336.9" stroke="#000" stroke-width="1.9" fill="none"/><text transform="translate(335.8 422.65) rotate(-90)" font-size="11.6">ab</text><path d="M343.2 466.85V430.75" fill="none" stroke="#5a5a5a" stroke-width="1.05" stroke-dasharray="2.5 2.95"/><path d="M340.9 430.75H345.5" fill="none" stroke="#5a5a5a" stroke-width="1"/><rect x="338.6" y="466.85" width="9.2" height="72.2" fill="#999999" stroke="#444444" stroke-width="1"/><path d="M338.6 502.95H347.8" stroke="#000" stroke-width="1.9" fill="none"/><text transform="translate(346.7 422.65) rotate(-90)" font-size="11.6">ab</text></g>
<g><text x="365.6" y="402.65" font-size="11.1" font-style="italic">Smilax china</text><path d="M382.6 430.75V539.05M375.6 539.05H382.6M375.6 502.95H382.6M375.6 466.85H382.6M375.6 430.75H382.6M412.25 543.85H668.45M412.25 543.85V550.05M448.85 543.85V550.05M485.45 543.85V550.05M522.05 543.85V550.05M558.65 543.85V550.05M595.25 543.85V550.05M631.85 543.85V550.05M668.45 543.85V550.05" fill="none" stroke="#787878" stroke-width="1.3"/><text x="365.9" y="542.95" font-size="10.6" text-anchor="middle">0</text><text x="365.9" y="506.85" font-size="10.6" text-anchor="middle">1</text><text x="365.9" y="470.75" font-size="10.6" text-anchor="middle">2</text><text x="365.9" y="434.65" font-size="10.6" text-anchor="middle">3</text><text x="368.85" y="567.45" font-size="10.6" textLength="62" lengthAdjust="spacingAndGlyphs">without fruits</text><text x="448.85" y="567.45" font-size="10.6" text-anchor="middle">Cj</text><text x="485.45" y="567.45" font-size="10.6" text-anchor="middle">Ct</text><text x="522.05" y="567.45" font-size="10.6" text-anchor="middle">Ns</text><text x="558.65" y="567.45" font-size="10.6" text-anchor="middle">Ps</text><text x="595.25" y="567.45" font-size="10.6" text-anchor="middle">Rt</text><text x="631.85" y="567.45" font-size="10.6" text-anchor="middle">Sc</text><text x="668.45" y="567.45" font-size="10.6" text-anchor="middle">Vd</text><path d="M412.25 466.85V502.95" fill="none" stroke="#5a5a5a" stroke-width="1.05" stroke-dasharray="2.5 2.95"/><path d="M407.75 502.95H416.75" fill="none" stroke="#5a5a5a" stroke-width="1"/><rect x="403.25" y="430.75" width="18" height="36.1" fill="#ffffff" stroke="#444444" stroke-width="1"/><path d="M403.25 430.75H421.25" stroke="#000" stroke-width="1.9" fill="none"/><text transform="translate(415.75 422.65) rotate(-90)" font-size="11">a</text><rect x="433.55" y="430.75" width="9.2" height="108.3" fill="#ffffff" stroke="#444444" stroke-width="1"/><path d="M433.55 539.05H442.75" stroke="#000" stroke-width="1.9" fill="none"/><text transform="translate(441.65 422.65) rotate(-90)" font-size="11.6">ab</text><rect x="444.45" y="430.75" width="9.2" height="108.3" fill="#cccccc" stroke="#444444" stroke-width="1"/><path d="M444.45 502.95H453.65" stroke="#000" stroke-width="1.9" fill="none"/><text transform="translate(452.55 422.65) rotate(-90)" font-size="11.6">ab</text><path d="M459.95 466.85V430.75" fill="none" stroke="#5a5a5a" stroke-width="1.05" stroke-dasharray="2.5 2.95"/><path d="M457.65 430.75H462.25" fill="none" stroke="#5a5a5a" stroke-width="1"/><rect x="455.35" y="466.85" width="9.2" height="72.2" fill="#999999" stroke="#444444" stroke-width="1"/><path d="M455.35 502.95H464.55" stroke="#000" stroke-width="1.9" fill="none"/><text transform="translate(463.45 422.65) rotate(-90)" font-size="11.6">ab</text><rect x="470.15" y="430.75" width="9.2" height="108.3" fill="#ffffff" stroke="#444444" stroke-width="1"/><path d="M470.15 466.85H479.35" stroke="#000" stroke-width="1.9" fill="none"/><text transform="translate(478.25 422.65) rotate(-90)" font-size="11.6">ab</text><rect x="481.05" y="430.75" width="9.2" height="108.3" fill="#cccccc" stroke="#444444" stroke-width="1"/><path d="M481.05 466.85H490.25" stroke="#000" stroke-width="1.9" fill="none"/><text transform="translate(489.15 422.65) rotate(-90)" font-size="11.6">ab</text><rect x="491.95" y="502.95" width="9.2" height="36.1" fill="#999999" stroke="#444444" stroke-width="1"/><path d="M491.95 539.05H501.15" stroke="#000" stroke-width="1.9" fill="none"/><circle cx="496.55" cy="430.75" r="2.35" fill="none" stroke="#606060" stroke-width="1.15"/><text transform="translate(500.05 416.2) rotate(-90)" font-size="11.6">b</text><path d="M511.35 448.8V430.75" fill="none" stroke="#5a5a5a" stroke-width="1.05" stroke-dasharray="2.5 2.95"/><path d="M509.05 430.75H513.65" fill="none" stroke="#5a5a5a" stroke-width="1"/><rect x="506.75" y="448.8" width="9.2" height="90.25" fill="#ffffff" stroke="#444444" stroke-width="1"/><path d="M506.75 502.95H515.95" stroke="#000" stroke-width="1.9" fill="none"/><text transform="translate(514.85 422.65) rotate(-90)" font-size="11.6">ab</text><path d="M522.25 502.95V539.05" fill="none" stroke="#5a5a5a" stroke-width="1.05" stroke-dasharray="2.5 2.95"/><path d="M519.95 539.05H524.55" fill="none" stroke="#5a5a5a" stroke-width="1"/><rect x="517.65" y="430.75" width="9.2" height="72.2" fill="#cccccc" stroke="#444444" stroke-width="1"/><path d="M517.65 466.85H526.85" stroke="#000" stroke-width="1.9" fill="none"/><text transform="translate(525.75 422.65) rotate(-90)" font-size="11.6">ab</text><path d="M533.15 502.95V539.05" fill="none" stroke="#5a5a5a" stroke-width="1.05" stroke-dasharray="2.5 2.95"/><path d="M530.85 539.05H535.45" fill="none" stroke="#5a5a5a" stroke-width="1"/><rect x="528.55" y="430.75" width="9.2" height="72.2" fill="#999999" stroke="#444444" stroke-width="1"/><path d="M528.55 466.85H537.75" stroke="#000" stroke-width="1.9" fill="none"/><text transform="translate(536.65 422.65) rotate(-90)" font-size="11.6">ab</text><path d="M547.95 521V539.05" fill="none" stroke="#5a5a5a" stroke-width="1.05" stroke-dasharray="2.5 2.95"/><path d="M545.65 539.05H550.25" fill="none" stroke="#5a5a5a" stroke-width="1"/><rect x="543.35" y="430.75" width="9.2" height="90.25" fill="#ffffff" stroke="#444444" stroke-width="1"/><path d="M543.35 430.75H552.55" stroke="#000" stroke-width="1.9" fill="none"/><text transform="translate(551.45 422.65) rotate(-90)" font-size="11.6">ab</text><path d="M558.85 502.95V539.05" fill="none" stroke="#5a5a5a" stroke-width="1.05" stroke-dasharray="2.5 2.95"/><path d="M556.55 539.05H561.15" fill="none" stroke="#5a5a5a" stroke-width="1"/><rect x="554.25" y="430.75" width="9.2" height="72.2" fill="#cccccc" stroke="#444444" stroke-width="1"/><path d="M554.25 466.85H563.45" stroke="#000" stroke-width="1.9" fill="none"/><text transform="translate(562.35 422.65) rotate(-90)" font-size="11.6">ab</text><path d="M569.75 521V539.05" fill="none" stroke="#5a5a5a" stroke-width="1.05" stroke-dasharray="2.5 2.95"/><path d="M567.45 539.05H572.05" fill="none" stroke="#5a5a5a" stroke-width="1"/><rect x="565.15" y="430.75" width="9.2" height="90.25" fill="#999999" stroke="#444444" stroke-width="1"/><path d="M565.15 430.75H574.35" stroke="#000" stroke-width="1.9" fill="none"/><text transform="translate(573.25 422.65) rotate(-90)" font-size="11.6">ab</text><rect x="579.95" y="430.75" width="9.2" height="108.3" fill="#ffffff" stroke="#444444" stroke-width="1"/><path d="M579.95 502.95H589.15" stroke="#000" stroke-width="1.9" fill="none"/><text transform="translate(588.05 422.65) rotate(-90)" font-size="11.6">ab</text><path d="M595.45 502.95V539.05" fill="none" stroke="#5a5a5a" stroke-width="1.05" stroke-dasharray="2.5 2.95"/><path d="M593.15 539.05H597.75" fill="none" stroke="#5a5a5a" stroke-width="1"/><rect x="590.85" y="430.75" width="9.2" height="72.2" fill="#cccccc" stroke="#444444" stroke-width="1"/><path d="M590.85 430.75H600.05" stroke="#000" stroke-width="1.9" fill="none"/><text transform="translate(598.95 422.65) rotate(-90)" font-size="11.6">ab</text><rect x="601.75" y="430.75" width="9.2" height="108.3" fill="#999999" stroke="#444444" stroke-width="1"/><path d="M601.75 430.75H610.95" stroke="#000" stroke-width="1.9" fill="none"/><text transform="translate(609.85 422.65) rotate(-90)" font-size="11.6">ab</text><path d="M621.15 521V539.05" fill="none" stroke="#5a5a5a" stroke-width="1.05" stroke-dasharray="2.5 2.95"/><path d="M618.85 539.05H623.45" fill="none" stroke="#5a5a5a" stroke-width="1"/><rect x="616.55" y="430.75" width="9.2" height="90.25" fill="#ffffff" stroke="#444444" stroke-width="1"/><path d="M616.55 430.75H625.75" stroke="#000" stroke-width="1.9" fill="none"/><text transform="translate(624.65 422.65) rotate(-90)" font-size="11.6">ab</text><rect x="627.45" y="430.75" width="9.2" height="108.3" fill="#cccccc" stroke="#444444" stroke-width="1"/><path d="M627.45 466.85H636.65" stroke="#000" stroke-width="1.9" fill="none"/><text transform="translate(635.55 422.65) rotate(-90)" font-size="11.6">ab</text><path d="M642.95 521V539.05" fill="none" stroke="#5a5a5a" stroke-width="1.05" stroke-dasharray="2.5 2.95"/><path d="M640.65 539.05H645.25" fill="none" stroke="#5a5a5a" stroke-width="1"/><rect x="638.35" y="430.75" width="9.2" height="90.25" fill="#999999" stroke="#444444" stroke-width="1"/><path d="M638.35 502.95H647.55" stroke="#000" stroke-width="1.9" fill="none"/><text transform="translate(646.45 422.65) rotate(-90)" font-size="11.6">ab</text><rect x="653.15" y="430.75" width="9.2" height="108.3" fill="#ffffff" stroke="#444444" stroke-width="1"/><path d="M653.15 502.95H662.35" stroke="#000" stroke-width="1.9" fill="none"/><text transform="translate(661.25 422.65) rotate(-90)" font-size="11.6">ab</text><rect x="664.05" y="430.75" width="9.2" height="108.3" fill="#cccccc" stroke="#444444" stroke-width="1"/><path d="M664.05 502.95H673.25" stroke="#000" stroke-width="1.9" fill="none"/><text transform="translate(672.15 422.65) rotate(-90)" font-size="11.6">ab</text><rect x="674.95" y="502.95" width="9.2" height="36.1" fill="#999999" stroke="#444444" stroke-width="1"/><path d="M674.95 539.05H684.15" stroke="#000" stroke-width="1.9" fill="none"/><circle cx="679.55" cy="430.75" r="2.35" fill="none" stroke="#606060" stroke-width="1.15"/><text transform="translate(683.05 416.2) rotate(-90)" font-size="11.6">b</text></g>
<g><text x="29.4" y="599.1" font-size="11.1" font-style="italic">Viburnum dilatatum</text><path d="M46 627.6V735.9M39 735.9H46M39 699.8H46M39 663.7H46M39 627.6H46M75.9 740.7H332.1M75.9 740.7V746.9M112.5 740.7V746.9M149.1 740.7V746.9M185.7 740.7V746.9M222.3 740.7V746.9M258.9 740.7V746.9M295.5 740.7V746.9M332.1 740.7V746.9" fill="none" stroke="#787878" stroke-width="1.3"/><text x="29.3" y="739.8" font-size="10.6" text-anchor="middle">0</text><text x="29.3" y="703.7" font-size="10.6" text-anchor="middle">1</text><text x="29.3" y="667.6" font-size="10.6" text-anchor="middle">2</text><text x="29.3" y="631.5" font-size="10.6" text-anchor="middle">3</text><text x="32.5" y="764.1" font-size="10.6" textLength="62" lengthAdjust="spacingAndGlyphs">without fruits</text><text x="112.5" y="764.1" font-size="10.6" text-anchor="middle">Cj</text><text x="149.1" y="764.1" font-size="10.6" text-anchor="middle">Ct</text><text x="185.7" y="764.1" font-size="10.6" text-anchor="middle">Ns</text><text x="222.3" y="764.1" font-size="10.6" text-anchor="middle">Ps</text><text x="258.9" y="764.1" font-size="10.6" text-anchor="middle">Rt</text><text x="295.5" y="764.1" font-size="10.6" text-anchor="middle">Sc</text><text x="332.1" y="764.1" font-size="10.6" text-anchor="middle">Vd</text><path d="M66.9 627.6H84.9" stroke="#000" stroke-width="1.9" fill="none"/><text transform="translate(78.9 620.2) rotate(-90)" font-size="11">a</text><path d="M97.2 627.6H106.4" stroke="#000" stroke-width="1.9" fill="none"/><circle cx="101.8" cy="663.7" r="2.35" fill="none" stroke="#606060" stroke-width="1.15"/><circle cx="101.8" cy="735.9" r="2.35" fill="none" stroke="#606060" stroke-width="1.15"/><text transform="translate(104.8 620.2) rotate(-90)" font-size="11">a</text><path d="M108.1 627.6H117.3" stroke="#000" stroke-width="1.9" fill="none"/><circle cx="112.7" cy="663.7" r="2.35" fill="none" stroke="#606060" stroke-width="1.15"/><circle cx="112.7" cy="735.9" r="2.35" fill="none" stroke="#606060" stroke-width="1.15"/><text transform="translate(115.7 620.2) rotate(-90)" font-size="11">a</text><path d="M119 627.6H128.2" stroke="#000" stroke-width="1.9" fill="none"/><circle cx="123.6" cy="699.8" r="2.35" fill="none" stroke="#606060" stroke-width="1.15"/><text transform="translate(126.6 620.2) rotate(-90)" font-size="11">a</text><path d="M133.8 627.6H143" stroke="#000" stroke-width="1.9" fill="none"/><circle cx="138.4" cy="699.8" r="2.35" fill="none" stroke="#606060" stroke-width="1.15"/><text transform="translate(141.4 620.2) rotate(-90)" font-size="11">a</text><path d="M144.7 627.6H153.9" stroke="#000" stroke-width="1.9" fill="none"/><circle cx="149.3" cy="663.7" r="2.35" fill="none" stroke="#606060" stroke-width="1.15"/><text transform="translate(152.3 620.2) rotate(-90)" font-size="11">a</text><path d="M155.6 627.6H164.8" stroke="#000" stroke-width="1.9" fill="none"/><circle cx="160.2" cy="663.7" r="2.35" fill="none" stroke="#606060" stroke-width="1.15"/><text transform="translate(163.2 620.2) rotate(-90)" font-size="11">a</text><path d="M170.4 627.6H179.6" stroke="#000" stroke-width="1.9" fill="none"/><text transform="translate(178 620.2) rotate(-90)" font-size="11">a</text><path d="M181.3 627.6H190.5" stroke="#000" stroke-width="1.9" fill="none"/><text transform="translate(188.9 620.2) rotate(-90)" font-size="11">a</text><path d="M192.2 627.6H201.4" stroke="#000" stroke-width="1.9" fill="none"/><circle cx="196.8" cy="663.7" r="2.35" fill="none" stroke="#606060" stroke-width="1.15"/><text transform="translate(199.8 620.2) rotate(-90)" font-size="11">a</text><path d="M207 627.6H216.2" stroke="#000" stroke-width="1.9" fill="none"/><circle cx="211.6" cy="699.8" r="2.35" fill="none" stroke="#606060" stroke-width="1.15"/><circle cx="211.6" cy="735.9" r="2.35" fill="none" stroke="#606060" stroke-width="1.15"/><text transform="translate(214.6 620.2) rotate(-90)" font-size="11">a</text><path d="M217.9 627.6H227.1" stroke="#000" stroke-width="1.9" fill="none"/><circle cx="222.5" cy="663.7" r="2.35" fill="none" stroke="#606060" stroke-width="1.15"/><text transform="translate(225.5 620.2) rotate(-90)" font-size="11">a</text><path d="M228.8 627.6H238" stroke="#000" stroke-width="1.9" fill="none"/><circle cx="233.4" cy="699.8" r="2.35" fill="none" stroke="#606060" stroke-width="1.15"/><text transform="translate(236.4 620.2) rotate(-90)" font-size="11">a</text><path d="M243.6 627.6H252.8" stroke="#000" stroke-width="1.9" fill="none"/><circle cx="248.2" cy="663.7" r="2.35" fill="none" stroke="#606060" stroke-width="1.15"/><circle cx="248.2" cy="699.8" r="2.35" fill="none" stroke="#606060" stroke-width="1.15"/><circle cx="248.2" cy="735.9" r="2.35" fill="none" stroke="#606060" stroke-width="1.15"/><text transform="translate(251.2 620.2) rotate(-90)" font-size="11">a</text><path d="M254.5 627.6H263.7" stroke="#000" stroke-width="1.9" fill="none"/><circle cx="259.1" cy="735.9" r="2.35" fill="none" stroke="#606060" stroke-width="1.15"/><text transform="translate(262.1 620.2) rotate(-90)" font-size="11">a</text><path d="M265.4 627.6H274.6" stroke="#000" stroke-width="1.9" fill="none"/><circle cx="270" cy="663.7" r="2.35" fill="none" stroke="#606060" stroke-width="1.15"/><circle cx="270" cy="735.9" r="2.35" fill="none" stroke="#606060" stroke-width="1.15"/><text transform="translate(273 620.2) rotate(-90)" font-size="11">a</text><path d="M284.8 645.65V663.7" fill="none" stroke="#5a5a5a" stroke-width="1.05" stroke-dasharray="2.5 2.95"/><path d="M282.5 663.7H287.1" fill="none" stroke="#5a5a5a" stroke-width="1"/><rect x="280.2" y="627.6" width="9.2" height="18.05" fill="#ffffff" stroke="#444444" stroke-width="1"/><path d="M280.2 627.6H289.4" stroke="#000" stroke-width="1.9" fill="none"/><circle cx="284.8" cy="735.9" r="2.35" fill="none" stroke="#606060" stroke-width="1.15"/><text transform="translate(287.8 620.2) rotate(-90)" font-size="11">a</text><path d="M291.1 627.6H300.3" stroke="#000" stroke-width="1.9" fill="none"/><text transform="translate(298.7 620.2) rotate(-90)" font-size="11">a</text><path d="M306.6 645.65V663.7" fill="none" stroke="#5a5a5a" stroke-width="1.05" stroke-dasharray="2.5 2.95"/><path d="M304.3 663.7H308.9" fill="none" stroke="#5a5a5a" stroke-width="1"/><rect x="302" y="627.6" width="9.2" height="18.05" fill="#999999" stroke="#444444" stroke-width="1"/><path d="M302 627.6H311.2" stroke="#000" stroke-width="1.9" fill="none"/><circle cx="306.6" cy="699.8" r="2.35" fill="none" stroke="#606060" stroke-width="1.15"/><circle cx="306.6" cy="735.9" r="2.35" fill="none" stroke="#606060" stroke-width="1.15"/><text transform="translate(309.6 620.2) rotate(-90)" font-size="11">a</text><path d="M316.8 627.6H326" stroke="#000" stroke-width="1.9" fill="none"/><circle cx="321.4" cy="663.7" r="2.35" fill="none" stroke="#606060" stroke-width="1.15"/><text transform="translate(324.4 620.2) rotate(-90)" font-size="11">a</text><path d="M327.7 627.6H336.9" stroke="#000" stroke-width="1.9" fill="none"/><circle cx="332.3" cy="663.7" r="2.35" fill="none" stroke="#606060" stroke-width="1.15"/><circle cx="332.3" cy="699.8" r="2.35" fill="none" stroke="#606060" stroke-width="1.15"/><circle cx="332.3" cy="735.9" r="2.35" fill="none" stroke="#606060" stroke-width="1.15"/><text transform="translate(335.3 620.2) rotate(-90)" font-size="11">a</text><path d="M338.6 627.6H347.8" stroke="#000" stroke-width="1.9" fill="none"/><circle cx="343.2" cy="699.8" r="2.35" fill="none" stroke="#606060" stroke-width="1.15"/><text transform="translate(346.2 620.2) rotate(-90)" font-size="11">a</text></g>
<rect x="381.5" y="627.5" width="189.5" height="68" fill="#fff" stroke="#222" stroke-width="1.3"/>
<rect x="392.5" y="634.2" width="14.8" height="13.8" fill="#ffffff" stroke="#222" stroke-width="1.3"/>
<text x="417.5" y="646.7" font-size="12.5">Treatments with 7 Fruits</text>
<rect x="392.5" y="654.6" width="14.8" height="13.8" fill="#cccccc" stroke="#222" stroke-width="1.3"/>
<text x="417.5" y="667.1" font-size="12.5">Treatments with 21 Fruits</text>
<rect x="392.5" y="675" width="14.8" height="13.8" fill="#999999" stroke="#222" stroke-width="1.3"/>
<text x="417.5" y="687.5" font-size="12.5">Treatments with 63 Fruits</text>
<text x="204" y="789.6" font-size="16.4" text-anchor="middle" stroke="none" textLength="170.2" lengthAdjust="spacingAndGlyphs">Species of fruits placed</text>
<text x="359.4" y="833" font-size="14.6" text-anchor="middle" textLength="150.7" lengthAdjust="spacingAndGlyphs">Species of fruits placed</text>
<text transform="translate(12.2 522.8) rotate(-90)" font-size="14.5" textLength="169.8" lengthAdjust="spacingAndGlyphs">Number of seeds removed</text>
<text transform="translate(12.2 346.3) rotate(-90)" font-size="14.5">(no. basket<tspan font-size="9" dy="-5.4">-1</tspan><tspan dy="5.4" dx="1">)</tspan></text>
</svg>
</body>
</html>
